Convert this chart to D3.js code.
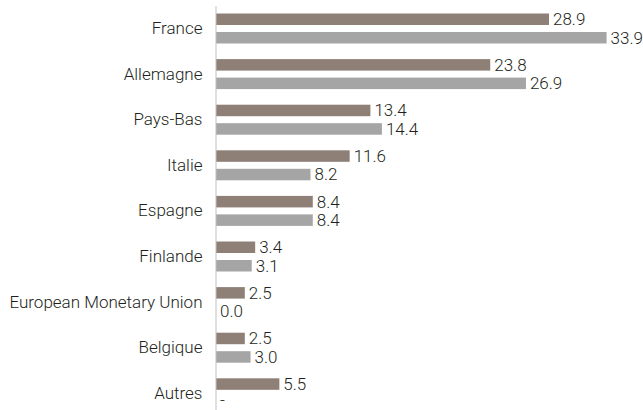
<!DOCTYPE html>
<html lang="fr">
<head>
    <meta charset="UTF-8">
    <title>Répartition par pays</title>
    <script src="https://d3js.org/d3.v7.min.js"></script>
    <style>
        body { margin: 0; background: #fff; }
        text { font-family: Roboto, "Liberation Sans", sans-serif; font-weight: 300; fill: #231f20; }
    </style>
</head>
<body>
<script>
    // categories and the two series
    const countries = ["France", "Allemagne", "Pays-Bas", "Italie", "Espagne", "Finlande",
        "European Monetary Union", "Belgique", "Autres"]
    const serieA = [28.9, 23.8, 13.4, 11.6, 8.4, 3.4, 2.5, 2.5, 5.5]
    const serieB = [33.9, 26.9, 14.4, 8.2, 8.4, 3.1, 0.0, 3.0, null]
    const series = ["a", "b"]
    const colors = {a: "#8e8077", b: "#a5a5a5"}

    const width = 643
    const height = 410
    const left = 216

    const svg = d3.select("body")
        .append("svg")
        .attr("width", width)
        .attr("height", height)

    const y0 = d3.scaleBand()
        .domain(countries)
        .range([5.7, 416.1])

    const y1 = d3.scaleBand()
        .domain(series)
        .range([7.8, 37.8])
        .paddingInner(0.378)

    const x = d3.scaleLinear()
        .domain([0, 33.9])
        .range([left, left + 390.6])

    const rows = countries.map((c, i) => ({
        country: c,
        values: [{key: "a", value: serieA[i]}, {key: "b", value: serieB[i]}]
    }))

    const group = svg.selectAll("g.row")
        .data(rows)
        .enter()
        .append("g")
        .attr("class", "row")
        .attr("transform", d => `translate(0, ${y0(d.country)})`)

    group.selectAll("rect")
        .data(d => d.values.filter(v => v.value !== null))
        .enter()
        .append("rect")
        .attr("x", x(0))
        .attr("y", d => y1(d.key))
        .attr("width", d => x(d.value) - x(0))
        .attr("height", y1.bandwidth())
        .attr("fill", d => colors[d.key])

    // missing value shows a dash, pulled up a little so it stays inside the frame
    group.selectAll("text.value")
        .data(d => d.values)
        .enter()
        .append("text")
        .attr("class", "value")
        .attr("x", d => x(d.value === null ? 0 : d.value) + 4)
        .attr("y", d => y1(d.key) + y1.bandwidth() / 2)
        .attr("dy", d => d.value === null ? "0.2em" : "0.35em")
        .style("font-size", "17px")
        .text(d => d.value === null ? "-" : d.value.toFixed(1))

    // vertical axis with the country names
    const axis = svg.append("g")
        .attr("transform", `translate(${left - 0.5}, 0)`)
        .call(d3.axisLeft(y0).tickSize(0).tickPadding(13))

    axis.select(".domain").attr("stroke", "#bfbfbf")
    axis.selectAll("text")
        .style("font-size", "17px")
        .style("font-family", "Roboto, sans-serif")
        .style("font-weight", 300)
        .attr("fill", "#231f20")
</script>
</body>
</html>
